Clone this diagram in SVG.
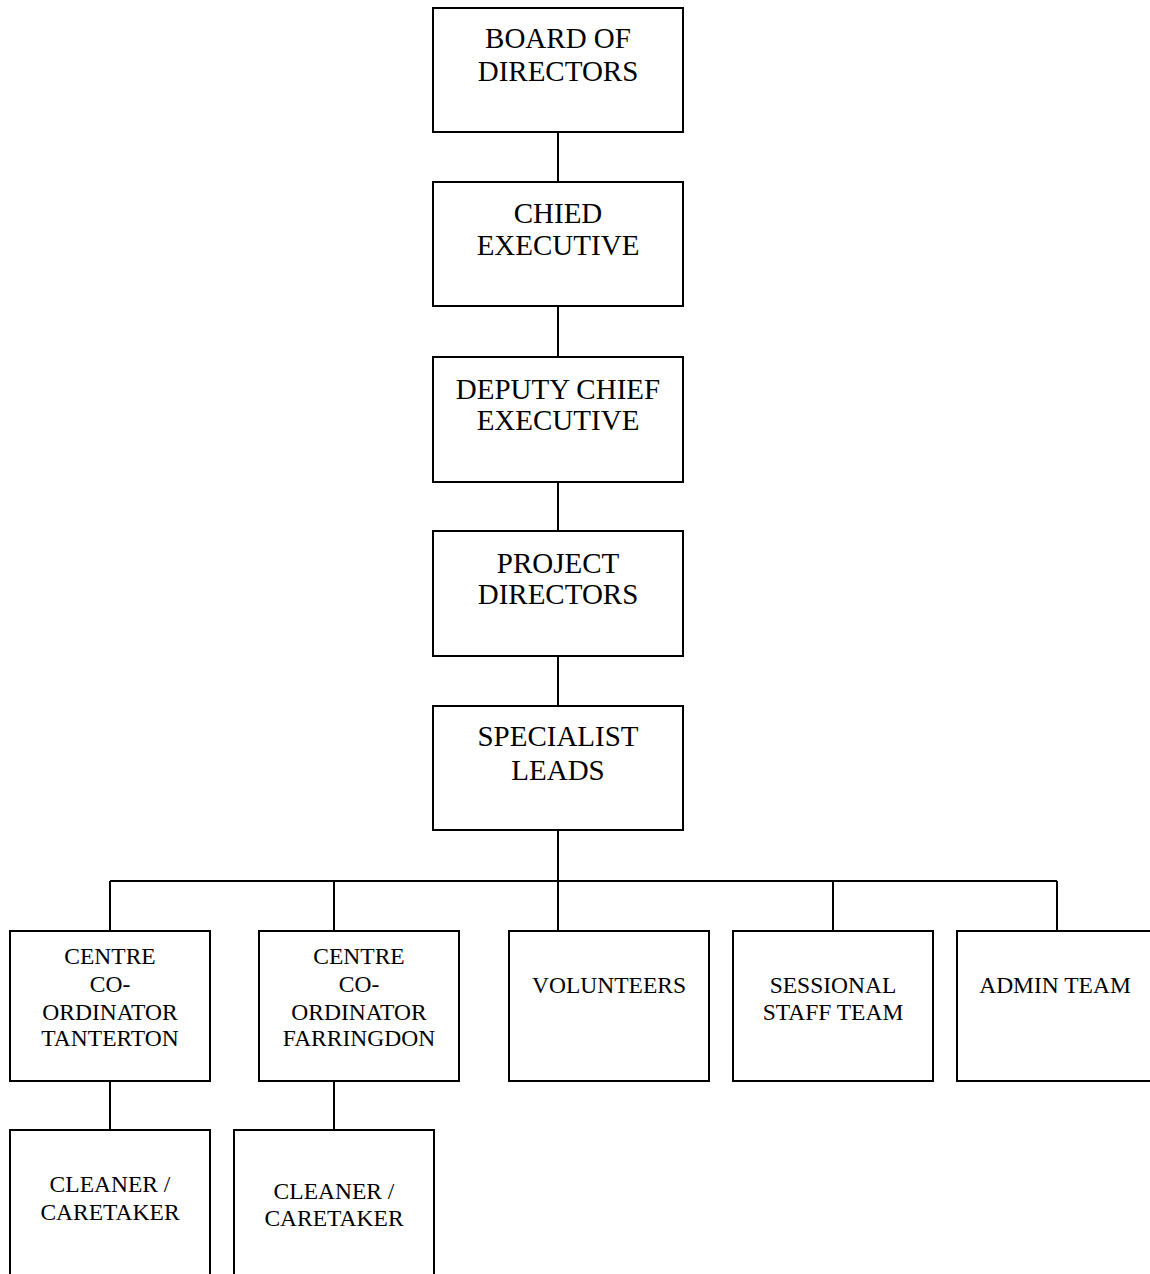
<svg xmlns="http://www.w3.org/2000/svg" width="1150" height="1274" viewBox="0 0 1150 1274">
<style>
.box{fill:#fff;stroke:#000;stroke-width:2}
.ln{fill:none;stroke:#000;stroke-width:2}
.t1{font-family:"Liberation Serif","Times New Roman",serif;font-size:29px;fill:#000;text-anchor:middle}
.t2{font-family:"Liberation Serif","Times New Roman",serif;font-size:23.5px;fill:#000;text-anchor:middle}
</style>
<rect width="1150" height="1274" fill="#fff"/>
<g id="connectors">
<path class="ln" d="M558 132V182M558 306V357M558 482V531M558 656V706M558 830V931"/>
<path class="ln" d="M110 881H1057M110 881V931M334 881V931M833 881V931M1057 881V931"/>
<path class="ln" d="M110 1081V1130M334 1081V1130"/>
</g>
<g id="board">
<rect class="box" x="433" y="8" width="250" height="124"/>
<text class="t1" x="558" y="48">BOARD OF</text>
<text class="t1" x="558" y="81">DIRECTORS</text>
</g>
<g id="chief">
<rect class="box" x="433" y="182" width="250" height="124"/>
<text class="t1" x="558" y="223">CHIED</text>
<text class="t1" x="558" y="255">EXECUTIVE</text>
</g>
<g id="deputy">
<rect class="box" x="433" y="357" width="250" height="125"/>
<text class="t1" x="558" y="399">DEPUTY CHIEF</text>
<text class="t1" x="558" y="430">EXECUTIVE</text>
</g>
<g id="project">
<rect class="box" x="433" y="531" width="250" height="125"/>
<text class="t1" x="558" y="573">PROJECT</text>
<text class="t1" x="558" y="604">DIRECTORS</text>
</g>
<g id="specialist">
<rect class="box" x="433" y="706" width="250" height="124"/>
<text class="t1" x="558" y="746">SPECIALIST</text>
<text class="t1" x="558" y="780">LEADS</text>
</g>
<g id="tanterton">
<rect class="box" x="10" y="931" width="200" height="150"/>
<text class="t2" x="110" y="964">CENTRE</text>
<text class="t2" x="110" y="992">CO-</text>
<text class="t2" x="110" y="1020">ORDINATOR</text>
<text class="t2" x="110" y="1046">TANTERTON</text>
</g>
<g id="farringdon">
<rect class="box" x="259" y="931" width="200" height="150"/>
<text class="t2" x="359" y="964">CENTRE</text>
<text class="t2" x="359" y="992">CO-</text>
<text class="t2" x="359" y="1020">ORDINATOR</text>
<text class="t2" x="359" y="1046">FARRINGDON</text>
</g>
<g id="volunteers">
<rect class="box" x="509" y="931" width="200" height="150"/>
<text class="t2" x="609" y="993">VOLUNTEERS</text>
</g>
<g id="sessional">
<rect class="box" x="733" y="931" width="200" height="150"/>
<text class="t2" x="833" y="993">SESSIONAL</text>
<text class="t2" x="833" y="1020">STAFF TEAM</text>
</g>
<g id="admin">
<rect class="box" x="957" y="931" width="210" height="150"/>
<text class="t2" x="1055" y="993">ADMIN TEAM</text>
</g>
<g id="cleaner1">
<rect class="box" x="10" y="1130" width="200" height="160"/>
<text class="t2" x="110" y="1192">CLEANER /</text>
<text class="t2" x="110" y="1220">CARETAKER</text>
</g>
<g id="cleaner2">
<rect class="box" x="234" y="1130" width="200" height="160"/>
<text class="t2" x="334" y="1199">CLEANER /</text>
<text class="t2" x="334" y="1226">CARETAKER</text>
</g>
</svg>
